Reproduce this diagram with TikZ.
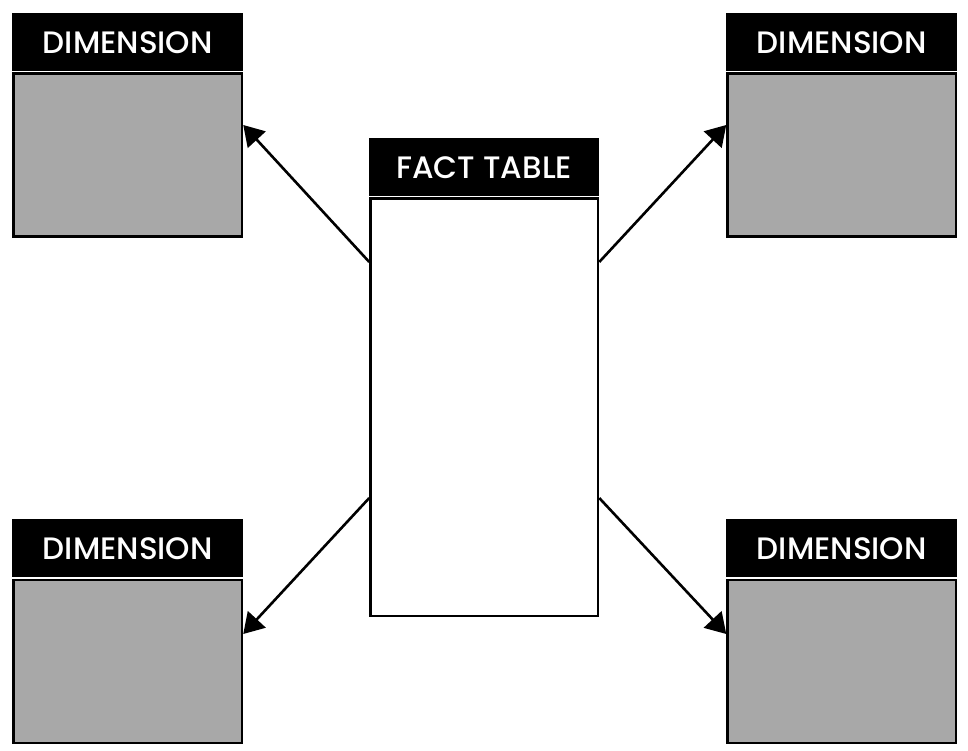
\documentclass[tikz,border=0pt]{standalone}
\usepackage{fontspec}
\setmainfont{Poppins}[UprightFont={* Medium}]
\usepackage{tikz}
\usetikzlibrary{positioning,arrows.meta}

\definecolor{dimgrey}{HTML}{A8A8A8}

\begin{document}
\begin{tikzpicture}[x=1pt, y=-1pt, line width=2.5pt, font=\fontsize{31}{34}\selectfont,
		>={Triangle[length=20pt,width=24pt]}]
	
	% Stili per le tabelle
	\tikzset{
		header/.style={
			anchor=north west,
			fill=black,
			text=white,
			minimum width=231pt,
			minimum height=58pt,
			inner sep=0pt
		},
		dimbody/.style={
			below=0pt of #1,
			draw=black,
			fill=dimgrey,
			minimum width=228.5pt,
			minimum height=163pt,
			inner sep=0pt
		},
		factbody/.style={
			below=0pt of #1,
			draw=black,
			fill=white,
			minimum width=227.5pt,
			minimum height=417pt,
			inner sep=0pt
		},
		link/.style={
			->,
			line width=2.6pt
		}
	}
	
	\useasboundingbox (0,0) rectangle (968,751);
	
	% Tabella dei fatti al centro
	\node[header, minimum width=230pt] (facth) at (368, 137) {FACT TABLE};
	\node[factbody=facth] (fact) {};
	
	% Dimensioni ai quattro angoli
	\node[header] (dtlh) at (11, 12)  {DIMENSION};
	\node[dimbody=dtlh] (dtl) {};
	\node[header] (dtrh) at (725, 12) {DIMENSION};
	\node[dimbody=dtrh] (dtr) {};
	\node[header] (dblh) at (11, 518) {DIMENSION};
	\node[dimbody=dblh] (dbl) {};
	\node[header] (dbrh) at (725, 518) {DIMENSION};
	\node[dimbody=dbrh] (dbr) {};
	
	% Punti di partenza e di arrivo delle frecce
	\coordinate (ftl) at (fact.west |- 0,262);
	\coordinate (fbl) at (fact.west |- 0,498);
	\coordinate (ftr) at (fact.east |- 0,262);
	\coordinate (fbr) at (fact.east |- 0,498);
	\coordinate (ttl) at (dtl.east |- 0,125);
	\coordinate (tbl) at (dbl.east |- 0,634);
	\coordinate (ttr) at (dtr.west |- 0,125);
	\coordinate (tbr) at (dbr.west |- 0,634);
	
	% Frecce verso le dimensioni
	\draw[link] (ftl) -- (ttl);
	\draw[link] (fbl) -- (tbl);
	\draw[link] (ftr) -- (ttr);
	\draw[link] (fbr) -- (tbr);
	
\end{tikzpicture}
\end{document}
